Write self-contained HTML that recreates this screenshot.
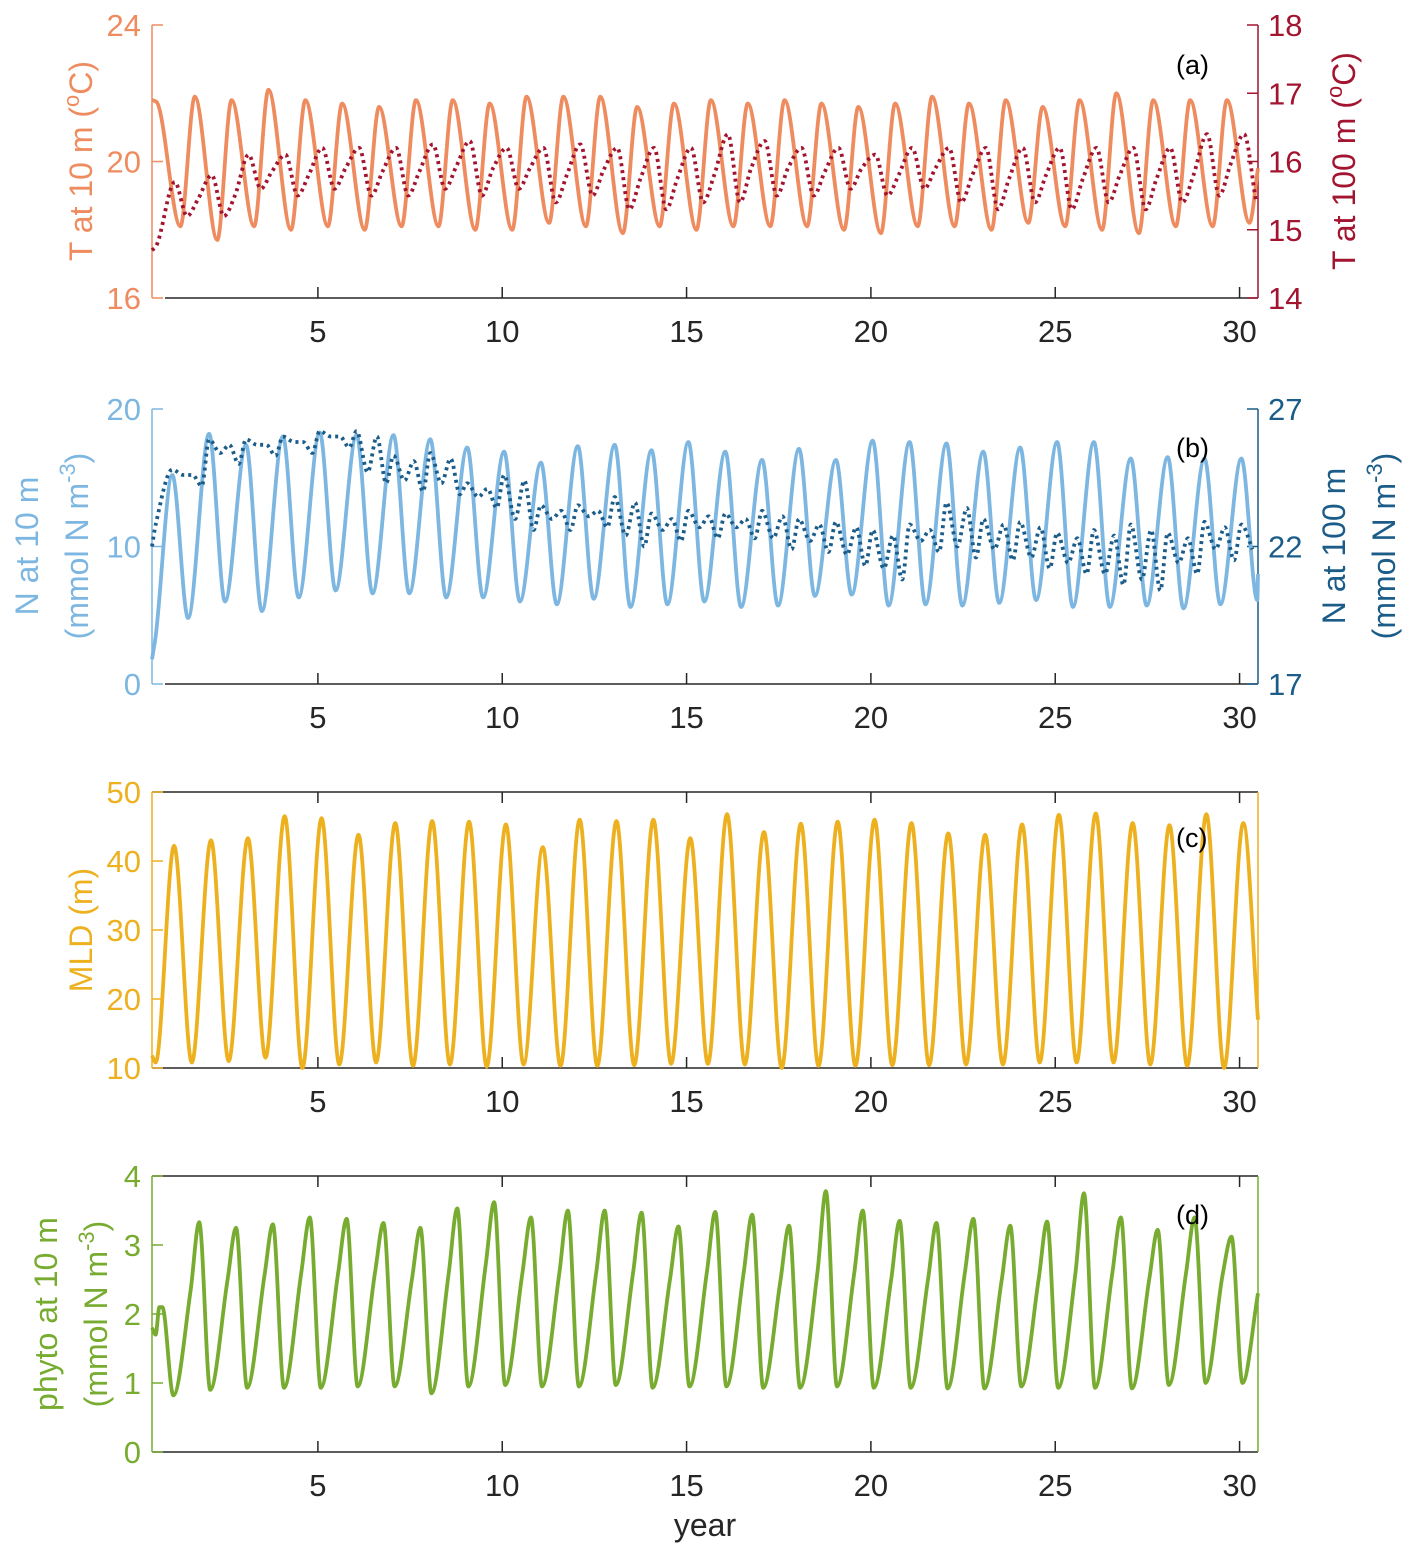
<!DOCTYPE html>
<html><head><meta charset="utf-8">
<style>
body{margin:0;background:#fff;}
svg{display:block;font-family:"Liberation Sans",Arial,sans-serif;}
</style></head>
<body>
<svg id="chart" width="1418" height="1556" viewBox="0 0 1418 1556" xmlns="http://www.w3.org/2000/svg"></svg>
<script>
// ---------- data ----------
const years = [1,2,3,4,5,6,7,8,9,10,11,12,13,14,15,16,17,18,19,20,21,22,23,24,25,26,27,28,29,30];
const xTicks = [5,10,15,20,25,30];
// (a) T at 10 m
const tSurfPeaks = [21.9,21.8,22.1,21.8,21.7,21.6,21.8,21.8,21.7,21.9,21.9,21.9,21.6,21.7,21.8,21.7,21.8,21.7,21.6,21.7,21.9,21.7,21.8,21.6,21.8,22.0,21.8,21.8,21.8,19.8];
const tSurfTroughs = [18.1,17.7,18.1,18.0,18.1,18.0,18.1,18.1,18.0,18.0,18.2,18.1,17.9,18.1,18.0,18.1,18.1,18.1,18.0,17.9,18.1,18.1,18.0,18.2,18.1,18.0,17.9,18.1,18.1,18.2];
// (a) T at 100 m
const tDeepPeaks = [15.7,15.8,16.1,16.1,16.2,16.2,16.2,16.25,16.3,16.2,16.2,16.25,16.2,16.2,16.2,16.4,16.3,16.2,16.2,16.1,16.2,16.2,16.2,16.2,16.2,16.2,16.2,16.2,16.4,16.4];
const tDeepTroughs = [15.2,15.2,15.6,15.5,15.6,15.5,15.5,15.6,15.5,15.6,15.4,15.5,15.3,15.3,15.4,15.4,15.5,15.5,15.6,15.5,15.6,15.4,15.3,15.4,15.3,15.4,15.3,15.4,15.5,15.4];
// (b) N at 10 m
const nSurfPeaks = [15.2,18.2,17.4,18.0,18.3,18.1,18.1,17.8,17.2,16.9,16.1,17.3,17.4,17.0,17.6,16.9,16.3,17.1,16.3,17.7,17.6,17.5,16.9,17.2,17.6,17.6,16.4,16.5,16.4,16.4];
const nSurfTroughs = [4.8,6.0,5.3,6.3,6.8,6.6,6.6,6.3,6.3,6.0,5.8,6.2,5.6,5.8,6.0,5.6,5.7,6.4,6.5,5.7,5.8,5.7,5.9,6.1,5.6,5.6,5.7,5.5,5.8,6.1];
// (b) N at 100 m
const nDeepPeaks = [24.8,25.9,25.9,26.0,26.2,26.2,25.3,25.4,24.3,24.6,23.5,23.5,23.8,23.2,23.3,23.2,23.3,23.0,22.9,22.6,22.8,23.6,23.0,22.9,22.5,22.6,22.8,22.5,22.9,22.8];
const nDeepTroughs = [24.2,25.0,25.3,25.4,25.6,24.3,24.0,23.9,23.4,22.6,22.6,22.7,22.0,22.2,22.3,22.3,21.9,21.8,21.3,20.8,21.8,21.6,21.5,21.2,21.0,20.6,20.4,21.0,21.5,21.5];
// (c) MLD
const mldPeaks = [42.2,43.0,43.3,46.5,46.2,43.8,45.5,45.8,45.7,45.3,42.0,46.0,45.8,46.0,43.3,46.8,44.2,45.4,45.7,46.0,45.5,44.0,43.8,45.3,46.7,46.9,45.5,45.2,46.8,45.5];
const mldTroughs = [10.8,11.0,11.5,10.0,10.5,10.8,10.3,10.5,10.2,10.5,10.3,10.3,10.4,10.6,10.6,10.5,10.0,10.3,10.3,10.4,10.4,10.5,10.5,10.8,10.8,10.8,10.5,10.3,10.0,17.0];
// (d) phyto
const phyPeaks = [3.33,3.25,3.3,3.4,3.38,3.32,3.25,3.53,3.62,3.4,3.5,3.5,3.47,3.27,3.48,3.44,3.28,3.78,3.5,3.35,3.32,3.38,3.28,3.34,3.75,3.4,3.22,3.4,3.12,2.3];
const phyShoulders = [2.35,2.5,2.55,2.6,2.6,2.6,2.5,2.6,2.7,2.6,2.6,2.6,2.6,2.5,2.6,2.6,2.5,2.6,2.6,2.5,2.5,2.6,2.5,2.5,2.6,2.6,2.5,2.6,2.6,2.3];
const phyTroughs = [0.82,0.9,0.93,0.93,0.93,0.95,0.95,0.85,0.95,0.97,0.95,0.95,0.97,0.93,0.95,0.95,0.93,0.93,0.95,0.93,0.93,0.92,0.92,0.95,0.93,0.93,0.92,0.97,1.0,1.0];

// ---------- helpers ----------
const svg = document.getElementById('chart');
const NS = 'http://www.w3.org/2000/svg';
const X0 = 152, X1 = 1258, D0 = 0.5, D1 = 30.5;
const FS = 31;
function xs(t){ return X0 + (t - D0) / (D1 - D0) * (X1 - X0); }
function mk(tag, attrs, parent){ const e = document.createElementNS(NS, tag); for (const k in attrs) e.setAttribute(k, attrs[k]); (parent||svg).appendChild(e); return e; }
function yScale(top, bot, vmin, vmax){ return v => bot - (v - vmin) / (vmax - vmin) * (bot - top); }
function monoPath(pts){
  const n = pts.length, dx=[], dy=[], m=[], s=[];
  for (let i=0;i<n-1;i++){ dx[i]=pts[i+1][0]-pts[i][0]; dy[i]=pts[i+1][1]-pts[i][1]; s[i]=dy[i]/dx[i]; }
  for (let i=0;i<n;i++){
    if (i===0) m[i]=s[0]; else if (i===n-1) m[i]=s[n-2];
    else m[i] = (s[i-1]*s[i] <= 0) ? 0 : 2/(1/s[i-1]+1/s[i]);
  }
  let d = 'M' + pts[0][0].toFixed(1) + ',' + pts[0][1].toFixed(1);
  for (let i=0;i<n-1;i++){
    const h = dx[i]/3;
    d += ' C' + (pts[i][0]+h).toFixed(1) + ',' + (pts[i][1]+m[i]*h).toFixed(1) + ' ' + (pts[i+1][0]-h).toFixed(1) + ',' + (pts[i+1][1]-m[i+1]*h).toFixed(1) + ' ' + pts[i+1][0].toFixed(1) + ',' + pts[i+1][1].toFixed(1);
  }
  return d;
}
function series(knots, y, color, name, dotted){
  const pts = knots.filter(k => k[0] >= D0 - 1e-9 && k[0] <= D1 + 1e-9)
                   .sort((a,b)=>a[0]-b[0])
                   .map(k => [xs(k[0]), y(k[1])]);
  const p = mk('path', {d: monoPath(pts), fill:'none', stroke: color, 'stroke-width': 3.8, 'stroke-linejoin':'round'});
  if (dotted) { p.setAttribute('stroke-dasharray','3 4'); p.setAttribute('stroke-width','3.8'); }
  
  
}
function text(x, y, str, attrs, name){
  const t = mk('text', Object.assign({x:x, y:y, 'font-size':FS}, attrs||{}));
  t.textContent = str;
  
  
  return t;
}
function axes(top, bot, opts){
  const b = mk('line', {x1: opts.box?X0:165, y1: bot, x2: X1, y2: bot, stroke:'#262626', 'stroke-width':1.5});
   
  if (opts.box) { const tl = mk('line', {x1:X0,y1:top,x2:X1,y2:top,stroke:'#262626','stroke-width':1.5});   }
  xTicks.forEach(v => {
    const x = xs(v);
    const tk = mk('line', {x1:x,y1:bot,x2:x,y2:bot-11,stroke:'#262626','stroke-width':1.5});
     
    if (opts.box) { const tt = mk('line', {x1:x,y1:top,x2:x,y2:top+11,stroke:'#262626','stroke-width':1.5});   }
    text(x, bot + 44, String(v), {'text-anchor':'middle', fill:'#262626'}, opts.id + '-x-tick-label');
  });
  const la = mk('line', {x1:X0,y1:top,x2:X0,y2:bot,stroke:opts.lc,'stroke-width':1.5});
   
  opts.lt.forEach(v => {
    const y = opts.ly(v);
    const tk = mk('line', {x1:X0,y1:y,x2:X0+11,y2:y,stroke:opts.lc,'stroke-width':1.5});
     
    text(141, y + 11, String(v), {'text-anchor':'end', fill:opts.lc}, opts.id + '-left-tick-label');
  });
  const ra = mk('line', {x1:X1,y1:top,x2:X1,y2:bot,stroke:opts.rc,'stroke-width':1.5});
   
  (opts.rt||[]).forEach(v => {
    const y = opts.ry(v);
    const tk = mk('line', {x1:X1,y1:y,x2:X1-11,y2:y,stroke:opts.rc,'stroke-width':1.5});
     
    text(1268, y + 11, String(v), {'text-anchor':'start', fill:opts.rc}, opts.id + '-right-tick-label');
  });
}
function ylabel(cx, cy, lines, color, name){
  const g = mk('g', {transform:'translate(' + cx + ',' + cy + ') rotate(-90)'});
   
  lines.forEach((ln, i) => {
    const t = mk('text', {x:0, y: i*50, 'text-anchor':'middle', 'font-size':32, fill:color}, g);
    t.innerHTML = ln;
     
  });
}
const SUP = '<tspan dy="-13" font-size="22">-3</tspan><tspan dy="13">)</tspan>';

const cOr='#EE8C60', cRed='#A2142F', cLb='#7DB7E1', cDb='#1B5C89', cY='#EDB120', cG='#77AC30';

// ---------- panel (a) ----------
const ya = yScale(25, 298, 16, 24), yaR = yScale(25, 298, 14, 18);
axes(25, 298, {id:'panel-a', lc:cOr, rc:cRed, lt:[16,20,24], ly:ya, rt:[14,15,16,17,18], ry:yaR});
const kA = [[0.5,21.8],[0.62,21.75]];
years.forEach((y,i) => { kA.push([y+0.27, tSurfTroughs[i]]); kA.push([y+0.66, tSurfPeaks[i]]); });
kA.push([30.5, 19.8]);
series(kA, ya, cOr, 'series-t-10m');
const kB = [[0.5,14.7],[0.6,14.75]];
years.forEach((y,i) => { kB.push([y+0.12, tDeepPeaks[i]]); kB.push([y+0.45, tDeepTroughs[i]]); kB.push([y+0.75, (tDeepPeaks[i]+tDeepTroughs[i])/2]); });
series(kB, yaR, cRed, 'series-t-100m', true);
ylabel(92, 161, ['T at 10 m (<tspan dy="-13" font-size="22">o</tspan><tspan dy="13">C)</tspan>'], cOr, 'y-axis-title-t-10m');
ylabel(1355, 161, ['T at 100 m (<tspan dy="-13" font-size="22">o</tspan><tspan dy="13">C)</tspan>'], cRed, 'y-axis-title-t-100m');
text(1176, 74, '(a)', {'font-size':27, fill:'#000'}, 'panel-label-a');

// ---------- panel (b) ----------
const yb = yScale(409, 684, 0, 20), ybR = yScale(409, 684, 17, 27);
axes(409, 684, {id:'panel-b', lc:cLb, rc:cDb, lt:[0,10,20], ly:yb, rt:[17,22,27], ry:ybR});
const kC = [[0.5,1.8],[0.6,3.5]];
years.forEach((y,i) => { kC.push([y+0.05, nSurfPeaks[i]]); kC.push([y+0.48, nSurfTroughs[i]]); });
kC.push([30.5, 8.0]);
series(kC, yb, cLb, 'series-n-10m');
const kD = [[0.5,22.0],[0.6,22.8]];
years.forEach((y,i) => { kD.push([y+0.05, nDeepPeaks[i]]); kD.push([y+0.35, nDeepTroughs[i]+0.4]); kD.push([y+0.6, nDeepPeaks[i]-0.2]); kD.push([y+0.85, nDeepTroughs[i]]); });
series(kD, ybR, cDb, 'series-n-100m', true);
ylabel(38, 546, ['N at 10 m', '(mmol N m' + SUP], cLb, 'y-axis-title-n-10m');
ylabel(1345, 546, ['N at 100 m', '(mmol N m' + SUP], cDb, 'y-axis-title-n-100m');
text(1176, 457, '(b)', {'font-size':27, fill:'#000'}, 'panel-label-b');

// ---------- panel (c) ----------
const yc = yScale(792, 1068, 10, 50);
axes(792, 1068, {id:'panel-c', lc:cY, rc:cY, lt:[10,20,30,40,50], ly:yc, box:true});
const kE = [[0.5,11.8],[0.6,10.8]];
years.forEach((y,i) => { kE.push([y+0.1, mldPeaks[i]]); if (y < 30) kE.push([y+0.58, mldTroughs[i]]); });
kE.push([30.5, 17.0]);
series(kE, yc, cY, 'series-mld');
ylabel(92, 930, ['MLD (m)'], cY, 'y-axis-title-mld');
text(1176, 847, '(c)', {'font-size':27, fill:'#000'}, 'panel-label-c');

// ---------- panel (d) ----------
const yd = yScale(1176, 1452, 0, 4);
axes(1176, 1452, {id:'panel-d', lc:cG, rc:cG, lt:[0,1,2,3,4], ly:yd, box:true});
const kF = [[0.5,1.8],[0.6,1.7],[0.7,2.1],[0.78,2.1]];
years.forEach((y,i) => {
  kF.push([y+0.08, phyTroughs[i]]);
  if (y < 30) { kF.push([y+0.55, phyShoulders[i]]); kF.push([y+0.78, phyPeaks[i]]); }
});
kF.push([30.5, 2.3]);
series(kF, yd, cG, 'series-phyto');
ylabel(57, 1314, ['phyto at 10 m', '(mmol N m' + SUP], cG, 'y-axis-title-phyto');
text(1176, 1224, '(d)', {'font-size':27, fill:'#000'}, 'panel-label-d');

text(705, 1536, 'year', {'font-size':32, 'text-anchor':'middle', fill:'#262626'}, 'x-axis-title');
</script>
</body></html>
